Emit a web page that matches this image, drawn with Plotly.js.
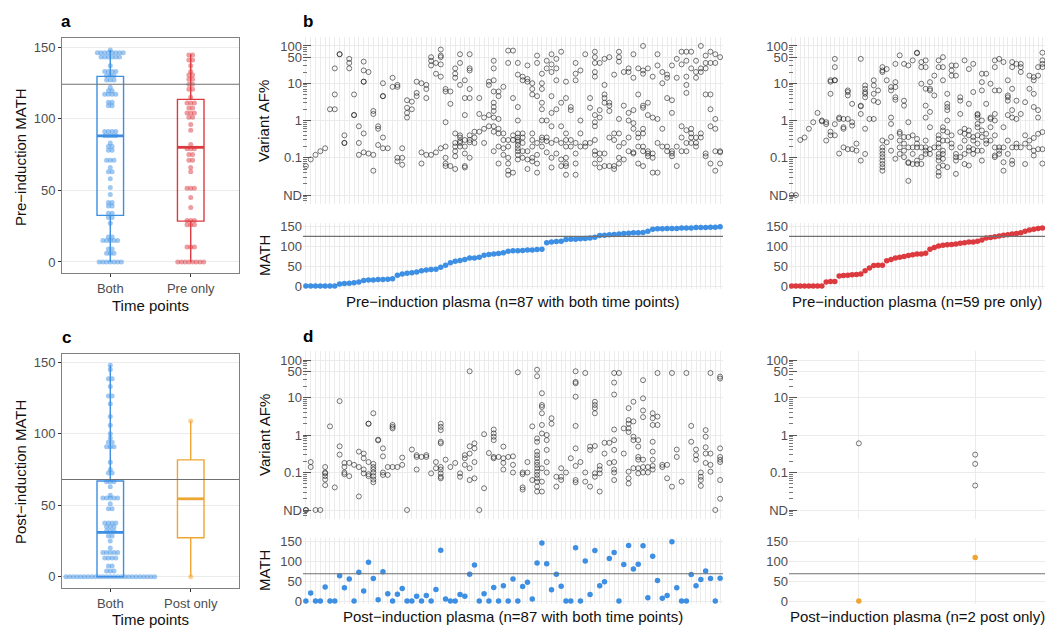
<!DOCTYPE html>
<html><head><meta charset="utf-8">
<script src="https://cdn.plot.ly/plotly-3.0.1.min.js"></script>
<style>html,body{margin:0;padding:0;background:#fff}#chart{width:1052px;height:630px}</style>
</head><body><div id="chart"></div>
<script>
// ---------------- DATA ----------------
const boxCatsPre = ['Both', 'Pre only'];
const boxCatsPost = ['Both', 'Post only'];
const preThreshold = 124;
const postThreshold = 68;
const afTickVals = [0.01, 0.1, 1, 10, 50, 100];
const afTickText = ['ND', '0.1', '1', '10', '50', '100'];
const mathTicks = [0, 50, 100, 150];
const ND = 0; // variant not detected

// pre-induction MATH, patients with both time points (sorted)
const preBothMath = [0,0,0,0,0,0,0,5,6,7,8,10,14,15,15,16,16,17,18,27,30,32,33,35,38,40,41,42,47,52,58,62,64,66,70,70,72,77,79,80,81,83,87,88,88,89,90,90,91,92,108,110,111,112,116,117,117,118,119,120,122,126,127,128,129,130,131,132,133,133,134,137,142,143,143,144,144,144,145,145,145,146,146,146,147,147,148];
// pre-induction MATH, pre only (sorted)
const preOnlyMath = [0,0,0,0,0,0,0,0,10,11,11,25,26,27,28,29,30,38,45,51,52,52,63,66,70,72,74,76,78,80,80,82,92,96,100,102,103,104,105,107,108,110,110,112,115,120,121,123,125,127,128,130,131,133,137,140,142,144,145];
// post-induction MATH, patients with both time points
const postBothMath = [0,20,0,0,35,0,0,63,33,55,0,72,25,97,56,3,73,18,0,17,31,0,0,12,0,14,0,29,127,5,0,0,16,12,67,90,0,18,0,34,0,38,0,55,0,36,47,5,95,145,93,28,67,37,0,0,133,0,100,16,126,38,48,106,121,0,91,139,80,92,138,8,112,51,7,14,148,33,0,0,66,38,54,75,56,0,57];
// post-induction MATH, post only
const postOnlyMath = [0, 109];

// variant allele fractions (%) per patient
const afPreBoth = [
[0.06],[0.09],[0.12],[0.15],[0.18],[2],[25,5,2],[60,60],[0.4,0.25,0.25],[45,35,25],
[5,1.4,1.4],[0.7,0.25,0.12],[38,22,11,11,0.45,0.14],[20,0.13],[1.8,1.5,0.12,0.045],[0.7,0.6,0.22],[10,4.5,4.5,0.35,0.18],[0.18],[14,8],[9,8,0.1,0.08],
[0.18,0.1,0.065],[3.5,2.2,1.6,1.2],[3.2,2],[11,5.5,4.5],[10,0.14,0.07],[9,7,4,0.12],[50,40,30,0.12],[35,18,0.14],[80,55,50,32,15,0.18],[7,6,0.9,0.2,0.1,0.07,0.06],
[6,2.8,0.06],[25,18,14,0.45,0.25,0.2,0.15,0.11,0.05],[60,35,9,0.4,0.35,0.28,0.25,0.2],[12,4,1.4,0.3,0.2,0.13,0.06,0.055],[60,25,22,7,4,0.4,0.3,0.26,0.1],[0.5,0.35,0.25],[4,1.5,0.5],[1.2,0.6,0.25],[11,9,1.4,0.7],[40,25,12,6,3,2.3,1.8,1.2,0.7,0.5,0.15],
[6,4.5,1.1,0.6,0.45,0.2,0.07],[8,0.45,0.3,0.18,0.12],[75,35,0.3,0.2,0.1,0.07,0.045,0.035],[75,4,0.4,0.3,0.04],[35,17,2.3,1,0.45,0.35,0.3,0.27,0.22,0.18,0.15,0.12,0.09],[15,12,0.45,0.35,0.25,0.15,0.1],[30,13,11,0.15,0.09,0.05],[10,7,5,0.45,0.3,0.2,0.1,0.08],[55,35,4.5,0.25,0.12,0.07,0.04],[18,10,7,3,2,1,0.35,0.3,0.2],
[40,25,1,0.35,0.28,0.14],[60,32,20,4.5,1.6,0.7,0.25,0.1,0.055],[45,25,12,2,0.3,0.13],[70,3,0.7,0.25,0.09,0.06],[11,4,0.45,0.3,0.2,0.1,0.07,0.06,0.035],[2.3,1.9,0.3,0.2],[35,18,12,0.25,0.13,0.07,0.035],[22,1,0.45,0.2],[60,0.25,0.2],[4,2.2,0.25],
[70,50,35,20,15,1.4,0.9,0.7,0.3,0.15,0.12,0.07],[35,1.9,1.2,0.13,0.09,0.055],[45,9,5,4,3,0.13,0.06],[50,3,2.5,1.8,0.35,0.06],[17,0.45,0.3,0.06,0.05],[70,50,38,1.1,0.45,0.2,0.1,0.07],[20,2.5,0.25,0.09],[25,20,1.6,1,0.35,0.15],[60,14,1.9,0.85,0.6,0.14,0.13],[25,5,0.45,0.35,0.2,0.07],
[100,22,18,2.5,2.2,0.6,0.45,0.2,0.15,0.06],[25,3,1.4,0.15,0.13,0.11],[15,1.2,0.13,0.1,0.04],[60,30,1.1,0.25,0.04],[20,10,0.6,0.2],[17,14,4,0.2,0.15],[30,3.5,1.6,0.15,0.13,0.11],[45,14,0.2,0.06],[70,32,0.7,0.35,0.15],[70,40,15,9,5.5,0.55,0.25,0.15],
[70,25,0.6,0.45,0.35,0.25],[40,20,14,0.35,0.25,0.2],[100,25,20,0.45,0.35],[55,35,25,5,0.13,0.11],[70,35,5,2,0.7,0.07],[60,35,1.1,0.6,0.15,0.045],[50,0.15,0.14,0.07]
];
const afPreOnly = [
[ND],[ND],[0.3],[0.35],[0.6],[0.9],[1.6],[1,0.95],[0.9,0.8,0.29],[12,11,5.2,0.5,0.4],
[45,27,12,12,0.8,0.4],[1.2,1.1,0.13],[1.1,0.66,0.6,0.19],[6.4,5.8,4.7,1.1,0.17],[2.8,0.9,0.73,0.17],[0.24,0.155],[45,2.5,2.4,1.5,0.084],[8.7,7.1,5.8,5.2,4.2,0.6,0.127],[1.1],[12,8.7,5.2,3.4,1.1],
[6.4,3.1],[27,22,20,0.29,0.19,0.155,0.127,0.104,0.084,0.068,0.056,0.045],[24,12,0.26],[7.9,6.4,1.2,0.81,0.36,0.155],[33,10.7,7.9,4.2,3.6,0.094],[56,0.49,0.44,0.29,0.19,0.127],[33,3.4,2.5,0.36,0.24,0.155,0.104],[30,0.9,0.36,0.19,0.076,0.072,0.024],[41,0.4,0.19,0.127,0.068],[66,64,0.32,0.24,0.19,0.084,0.068],
[37,27,9.7,0.19,0.104,0.068],[41,27,7.1,2.5,1.2,0.29,0.19,0.155,0.127],[10.7,7.1,6.4,1.7,0.66,0.17,0.127],[16,4.7,0.19],[41,27,0.4,0.32,0.24,0.19,0.127,0.104,0.084,0.056,0.041,0.033],[50,27,12,0.66,0.54,0.29,0.155,0.127,0.094,0.062],[5.2,2.8,2.3,1.9,1,0.49,0.29,0.056],[30,22,16,0.4,0.24,0.19],[30,16,0.127,0.104,0.084,0.037],[4.2,3.4,1.5,0.49,0.19,0.104],
[41,0.6,0.44,0.29,0.127,0.068],[24,2.8,0.54,0.4,0.19,0.155,0.062],[33,5.8,0.36,0.29,0.17,0.127],[1.5,1.4,1.2,0.81,0.66,0.4,0.24,0.155],[18,10.7,6.4,1,0.54,0.36,0.155,0.084],[18,2.8,0.44,0.29,0.24],[9.7,1.2,1.1,0.66,0.29],[41,27,6.4,1.5,1,0.4,0.19,0.115,0.104],[45,6.4,0.19,0.155,0.127],[37,0.66,0.19,0.076,0.045],
[12,4.7,4.2,3.4,1.4,0.29,0.127],[37,27,7.1,1.9,1.2,0.19,0.084,0.068],[33,3.4,1.1,0.24,0.19],[33,27,20,1.5,0.19],[3.1,0.4,0.24,0.068],[16,7.1,0.29,0.19],[14.6,12,5.2,2.3,0.34,0.155,0.115],[27,16,1.9,1.2,0.44,0.17],[66,41,33,27,0.49,0.17,0.07]
];
const afPostBoth = [
[ND,ND],[0.19,0.14],[ND],[ND],[0.14,0.1,0.095,0.08,0.065,0.046],[1.7],[0.04],[8,0.5,0.3],[0.18,0.14,0.1,0.09],[0.18,0.08],
[0.16],[0.36,0.14,0.023],[0.32,0.24,0.12,0.095],[2,2,0.19,0.09,0.08],[3.8,0.17,0.14,0.12,0.1,0.08,0.065,0.055],[0.75,0.72],[0.44,0.27,0.1,0.086],[0.14,0.086],[1.85,1.65,1.5,0.14],[0.14],
[0.25,0.16],[ND],[0.41],[0.29,0.26,0.12],[0.26],[0.29,0.26],[0.095],[0.19,0.13],[2,1.65,1.35,0.66,0.6,0.14,0.12,0.095,0.077,0.07],[0.22],
[0.14],[0.18],[0.095,0.077],[0.29,0.24,0.16],[50,0.5,0.32,0.13,0.063],[0.6,0.44,0.19,0.07],[ND],[1.05,0.038],[0.33],[1.4,1.1,0.9,0.73,0.26,0.24],
[0.26],[0.49,0.24,0.18,0.12],[0.26],[0.27,0.16,0.1],[47],[0.1,0.09,0.04,0.035],[0.19,0.1],[1.7,0.063],[55,37,0.81,0.66,0.36,0.29,0.24,0.19,0.16,0.13,0.105,0.086,0.07,0.057,0.042,0.031],[13,6.3,5.6,3.8,1.85,1.1,0.13,0.057,0.031],
[1,0.73,0.4,0.19,0.1],[2.8,2],[0.077,0.042],[0.13,0.077,0.063],[0.1],[0.24],[50,26,24,10.5,1.75,0.44,0.15,0.063,0.055],[0.19],[45,0.1,0.057],[0.49,0.4,0.042],
[7.7,6.3,5.2,3.8,0.51,0.095,0.077],[0.15,0.12,0.095,0.031],[0.62,0.32],[0.62,0.18],[45,25,12,1.4,0.73,0.4,0.19,0.12,0.1,0.063],[45],[1.5,0.32],[5.2,2.5,2,1.5,1.2,0.105,0.07,0.051],[7.7,2.3,0.9,0.73,0.13],[0.73,0.49,0.26,0.22,0.13,0.095],
[29,9.5,4.5,3,0.22,0.14,0.1],[0.14,0.1],[3.8,2.8,1.85,0.66,0.36,0.22,0.15,0.12],[45,3.1,1.85],[0.16,0.14],[0.16,0.07],[45,0.042],[0.41,0.26],[0.057],[45],
[1.75,0.66],[0.41,0.29,0.22],[0.1,0.077,0.063,0.044],[1.35,0.9,0.47,0.32,0.18],[45,0.32,0.16,0.105],[ND],[36,32,0.44,0.26,0.22,0.19,0.063,0.02]
];
const afPostOnly = [[0.6],[0.3,0.17,0.045]];

// ---------------- STYLE ----------------
const W = 1052, H = 630;
const BLUE = '#3d8fe3', RED = '#dc3a3f', ORANGE = '#efa534';
const FONT = '"Liberation Sans", Arial, Helvetica, sans-serif';
const GRID = '#ebebeb';
const TICKC = '#4d4d4d';
const ND_POS = 0.01;
const dx = (l, r) => [l / W, r / W];
const dy = (t, b) => [1 - b / H, 1 - t / H];

const traces = [];

// dot-plot stacking of values around a category centre (ggplot geom_dotplot-like)
function dotStack(values, center, binW, step) {
  const s = [...values].sort((a, b) => a - b);
  const bins = []; let cur = null;
  s.forEach(v => { if (cur && v - cur.start < binW) cur.vals.push(v); else { cur = { start: v, vals: [v] }; bins.push(cur); } });
  const xs = [], ys = [];
  bins.forEach(b => {
    const n = b.vals.length, yc = (b.vals[0] + b.vals[n - 1]) / 2;
    b.vals.forEach((v, k) => { xs.push(center + (k - (n - 1) / 2) * step); ys.push(yc); });
  });
  return { xs, ys };
}
function quantile7(values, p) {
  const s = [...values].sort((a, b) => a - b);
  const h = (s.length - 1) * p, lo = Math.floor(h);
  return s[lo] + (h - lo) * ((s[Math.min(lo + 1, s.length - 1)]) - s[lo]);
}
function rgba(hex, a) {
  const n = parseInt(hex.slice(1), 16);
  return `rgba(${n >> 16},${(n >> 8) & 255},${n & 255},${a})`;
}
function addBox(values, pos, color, xa, ya) {
  const bw = 0.33;
  const q1 = quantile7(values, 0.25), med = quantile7(values, 0.5), q3 = quantile7(values, 0.75);
  const iqr = q3 - q1;
  const lf = Math.min(...values.filter(v => v >= q1 - 1.5 * iqr));
  const uf = Math.max(...values.filter(v => v <= q3 + 1.5 * iqr));
  const st = dotStack(values, pos, 3, 0.046);
  traces.push({ type: 'scatter', mode: 'markers', x: st.xs, y: st.ys, xaxis: xa, yaxis: ya,
    marker: { size: 5, color: rgba(color, 0.5) }, hoverinfo: 'skip', showlegend: false });
  traces.push({ type: 'box', x: [pos], q1: [q1], median: [med], q3: [q3], lowerfence: [lf], upperfence: [uf],
    width: bw, whiskerwidth: 0, line: { color: color, width: 1.4 }, fillcolor: 'rgba(255,255,255,0)',
    xaxis: xa, yaxis: ya, hoverinfo: 'skip', showlegend: false });
  traces.push({ type: 'scatter', mode: 'lines', x: [pos - bw / 2, pos + bw / 2], y: [med, med],
    line: { color: color, width: 2.8 }, xaxis: xa, yaxis: ya, hoverinfo: 'skip', showlegend: false });
}
function addAF(lists, xa, ya) {
  const x = [], y = [];
  lists.forEach((vals, i) => vals.forEach(v => { x.push(i); y.push(v === ND ? ND_POS : v); }));
  traces.push({ type: 'scatter', mode: 'markers', x, y, xaxis: xa, yaxis: ya,
    marker: { symbol: 'circle-open', size: 5, color: 'rgba(30,30,30,0.6)', line: { width: 1 } },
    hoverinfo: 'skip', showlegend: false });
}
function addMath(values, color, xa, ya) {
  traces.push({ type: 'scatter', mode: 'markers', x: values.map((v, i) => i), y: values, xaxis: xa, yaxis: ya,
    marker: { size: 5.5, color: color }, hoverinfo: 'skip', showlegend: false });
}

// panel a / c
addBox(preBothMath, 0, BLUE, 'x', 'y');
addBox(preOnlyMath, 1, RED, 'x', 'y');
addBox(postBothMath, 0, BLUE, 'x6', 'y6');
addBox(postOnlyMath, 1, ORANGE, 'x6', 'y6');
// panel b
addAF(afPreBoth, 'x2', 'y2');
addMath(preBothMath, BLUE, 'x3', 'y3');
addAF(afPreOnly, 'x4', 'y4');
addMath(preOnlyMath, RED, 'x5', 'y5');
// panel d
addAF(afPostBoth, 'x7', 'y7');
addMath(postBothMath, BLUE, 'x8', 'y8');
addAF(afPostOnly, 'x9', 'y9');
addMath(postOnlyMath, ORANGE, 'x10', 'y10');

// minor log ticks
const minorLog = [];
for (let d = -3; d <= 2; d++) for (let m = 2; m <= 9; m++) minorLog.push(m * Math.pow(10, d));

const tickFont = { family: FONT, size: 13, color: TICKC };
function boxX(dom, anchor, cats) {
  return { domain: dom, anchor, range: [-0.6, 1.6], tickmode: 'array', tickvals: [0, 1], ticktext: cats,
    ticks: 'outside', ticklen: 3, tickcolor: '#333', showline: true, mirror: true, linecolor: '#808080',
    linewidth: 1, showgrid: false, zeroline: false, tickfont: tickFont };
}
function boxY(dom, anchor, range) {
  return { domain: dom, anchor, range, tickmode: 'array', tickvals: mathTicks, ticks: 'outside', ticklen: 3,
    tickcolor: '#333', showline: true, mirror: true, linecolor: '#808080', linewidth: 1, showgrid: true,
    gridcolor: GRID, zeroline: false, tickfont: tickFont };
}
function catX(dom, anchor, n) {
  return { domain: dom, anchor, range: [-0.6, n - 1 + 0.6], tickmode: 'linear', tick0: 0, dtick: 1,
    showticklabels: false, ticks: '', showgrid: true, gridcolor: GRID, gridwidth: 1, zeroline: false, showline: false };
}
function afY(dom, anchor) {
  return { domain: dom, anchor, type: 'log', range: [-2.24, 2.24], tickmode: 'array', tickvals: afTickVals,
    ticktext: afTickText, ticks: 'inside', ticklen: 8, tickcolor: '#555', tickwidth: 1,
    minor: { tickmode: 'array', tickvals: minorLog, ticks: 'inside', ticklen: 4, tickcolor: '#777', tickwidth: 1, showgrid: false },
    showgrid: true, gridcolor: GRID, zeroline: false, showline: false, tickfont: tickFont };
}
function mathY(dom, anchor) {
  return { domain: dom, anchor, range: [-7.5, 157.5], tickmode: 'array', tickvals: mathTicks, ticks: '',
    showgrid: true, gridcolor: GRID, zeroline: false, showline: false, tickfont: tickFont };
}

const layout = {
  width: W, height: H, margin: { l: 0, r: 0, t: 0, b: 0 }, paper_bgcolor: '#fff', plot_bgcolor: '#fff',
  font: { family: FONT, color: '#000' }, showlegend: false,
  xaxis: boxX(dx(62, 239), 'y', boxCatsPre),
  yaxis: boxY(dy(38, 273), 'x', [-7.7, 156.3]),
  xaxis2: catX(dx(303, 723), 'y2', afPreBoth.length),
  yaxis2: afY(dy(37, 204), 'x2'),
  xaxis3: catX(dx(303, 723), 'y3', preBothMath.length),
  yaxis3: mathY(dy(223, 289), 'x3'),
  xaxis4: catX(dx(789, 1045), 'y4', afPreOnly.length),
  yaxis4: afY(dy(37, 204), 'x4'),
  xaxis5: catX(dx(789, 1045), 'y5', preOnlyMath.length),
  yaxis5: mathY(dy(223, 289), 'x5'),
  xaxis6: boxX(dx(62, 239), 'y6', boxCatsPost),
  yaxis6: boxY(dy(354, 588), 'x6', [-7.9, 155.8]),
  xaxis7: catX(dx(303, 723), 'y7', afPostBoth.length),
  yaxis7: afY(dy(351, 519), 'x7'),
  xaxis8: catX(dx(303, 723), 'y8', postBothMath.length),
  yaxis8: mathY(dy(538, 604), 'x8'),
  xaxis9: catX(dx(789, 1045), 'y9', afPostOnly.length),
  yaxis9: afY(dy(351, 519), 'x9'),
  xaxis10: catX(dx(789, 1045), 'y10', postOnlyMath.length),
  yaxis10: mathY(dy(538, 604), 'x10'),
  shapes: [
    ['x', 'y', preThreshold], ['x3', 'y3', preThreshold], ['x5', 'y5', preThreshold],
    ['x6', 'y6', postThreshold], ['x8', 'y8', postThreshold], ['x10', 'y10', postThreshold]
  ].map(([xa, ya, v]) => ({ type: 'line', xref: xa + ' domain', x0: 0, x1: 1, yref: ya, y0: v, y1: v,
    line: { color: '#707070', width: 1.1 }, layer: 'above' })),
  annotations: []
};

const ann = (text, px, py, opts = {}) => layout.annotations.push(Object.assign({
  text, xref: 'paper', yref: 'paper', x: px / W, y: 1 - py / H, xanchor: 'center', yanchor: 'middle',
  showarrow: false, font: { family: FONT, size: 15, color: '#111' } }, opts));
const bold = { family: FONT, size: 17, color: '#000', weight: 'bold' };
ann('<b>a</b>', 66, 22, { font: bold });
ann('<b>b</b>', 308, 22, { font: bold });
ann('<b>c</b>', 66, 337, { font: bold });
ann('<b>d</b>', 308, 336, { font: bold });
ann('Pre\u2212induction MATH', 20, 157, { textangle: -90 });
ann('Time points', 150, 305);
ann('Variant AF%', 264, 121, { textangle: -90 });
ann('MATH', 264, 256, { textangle: -90 });
ann('Pre\u2212induction plasma (n=87 with both time points)', 513, 301);
ann('Pre\u2212induction plasma (n=59 pre only)', 917, 301);
ann('Post\u2212induction MATH', 20, 472, { textangle: -90 });
ann('Time points', 150, 619);
ann('Variant AF%', 264, 435, { textangle: -90 });
ann('MATH', 264, 571, { textangle: -90 });
ann('Post\u2212induction plasma (n=87 with both time points)', 513, 616);
ann('Post\u2212induction plasma (n=2 post only)', 917, 616);

Plotly.newPlot('chart', traces, layout, { displayModeBar: false, staticPlot: true });
</script>
</body></html>
